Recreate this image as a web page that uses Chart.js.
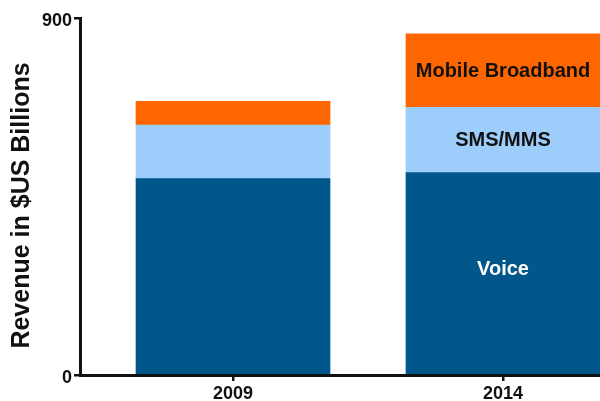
<!DOCTYPE html>
<html>
<head>
<meta charset="utf-8">
<script src="https://cdn.jsdelivr.net/npm/chart.js@4.4.1/dist/chart.umd.min.js"></script>
<style>
  html, body { margin: 0; padding: 0; background: #fff; overflow: hidden; }
  canvas { display: block; }
</style>
</head>
<body>
<canvas id="revChart" width="600" height="401"></canvas>
<script>
(function () {
  // ---- data ----
  const years = ["2009", "2014"];
  const voice = [495, 510];
  const smsMms = [135, 165];
  const mobileBroadband = [60, 185];
  const seriesNames = ["Voice", "SMS/MMS", "Mobile Broadband"];
  const yTicks = [0, 900];
  const yTitle = "Revenue in $US Billions";

  const FONT = "'Liberation Sans', Arial, Helvetica, sans-serif";

  // turn a value array into {x, y} points on the linear x axis
  function toPoints(arr) {
    return arr.map((v, i) => ({ x: i, y: v }));
  }

  // segment names written inside the 2014 bar
  const segmentLabels = {
    id: "segmentLabels",
    afterDatasetsDraw(chart) {
      const { ctx } = chart;
      const idx = years.length - 1;
      ctx.save();
      ctx.font = "bold 20px " + FONT;
      ctx.textAlign = "center";
      ctx.textBaseline = "middle";
      chart.data.datasets.forEach((ds, di) => {
        const el = chart.getDatasetMeta(di).data[idx];
        if (!el) return;
        ctx.fillStyle = ds.labelColor;
        ctx.fillText(ds.label, el.x, (el.y + el.base) / 2 + ds.labelShift);
      });
      ctx.restore();
    }
  };

  // rotated y axis title, sitting a little below the axis middle
  const axisTitle = {
    id: "axisTitle",
    afterDraw(chart) {
      const { ctx } = chart;
      const y = chart.scales.y;
      ctx.save();
      ctx.translate(22, (y.top + y.bottom) / 2 + 9);
      ctx.rotate(-Math.PI / 2);
      ctx.font = "bold 25px " + FONT;
      ctx.fillStyle = "#111";
      ctx.textAlign = "center";
      ctx.textBaseline = "middle";
      ctx.fillText(yTitle, 0, 0);
      ctx.restore();
    }
  };

  const ctx = document.getElementById("revChart").getContext("2d");

  new Chart(ctx, {
    type: "bar",
    data: {
      datasets: [
        { label: seriesNames[0], data: toPoints(voice), backgroundColor: "#01578A", labelColor: "#ffffff", labelShift: -4 },
        { label: seriesNames[1], data: toPoints(smsMms), backgroundColor: "#9DCDFB", labelColor: "#111111", labelShift: 1 },
        { label: seriesNames[2], data: toPoints(mobileBroadband), backgroundColor: "#FF6600", labelColor: "#111111", labelShift: 1 }
      ]
    },
    options: {
      responsive: false,
      animation: false,
      events: [],
      barThickness: 194,
      layout: { padding: { top: 18, right: 0, left: 0, bottom: 0 } },
      plugins: {
        legend: { display: false },
        tooltip: { enabled: false }
      },
      scales: {
        x: {
          type: "linear",
          stacked: true,
          offset: false,
          min: -0.5667,
          max: 1.3593,
          afterBuildTicks(scale) {
            scale.ticks = years.map((_, i) => ({ value: i }));
          },
          afterFit(scale) { scale.height = 26; },
          ticks: {
            callback: (v) => years[v],
            color: "#111",
            font: { family: FONT, size: 18, weight: "bold" },
            padding: 2,
            maxRotation: 0
          },
          grid: { offset: false, drawOnChartArea: false, drawTicks: true, tickLength: 6, color: "#111", lineWidth: 2.5 },
          border: { color: "#111", width: 3 }
        },
        y: {
          stacked: true,
          min: yTicks[0],
          max: yTicks[yTicks.length - 1],
          afterBuildTicks(scale) {
            scale.ticks = yTicks.map(v => ({ value: v }));
          },
          afterFit(scale) { scale.width = 80; },
          ticks: {
            color: "#111",
            font: { family: FONT, size: 18, weight: "bold" },
            padding: 2,
            labelOffset: 3
          },
          grid: { drawOnChartArea: false, drawTicks: true, tickLength: 6, color: "#111", lineWidth: 2.5 },
          border: { color: "#111", width: 3 }
        }
      }
    },
    plugins: [segmentLabels, axisTitle]
  });
})();
</script>
</body>
</html>
